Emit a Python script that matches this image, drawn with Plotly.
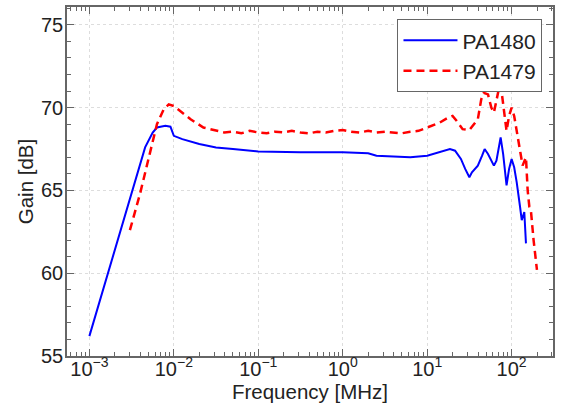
import plotly.graph_objects as go

# PA1480 (blue, solid) -- frequency in MHz, gain in dB
freq_pa1480 = [0.001, 0.00251, 0.00457, 0.00562, 0.00631, 0.00794, 0.00912, 0.01,
               0.0126, 0.02, 0.0316, 0.0501, 0.1, 0.316, 1.0, 2.0, 2.51, 3.98, 6.31,
               10.0, 14.1, 18.6, 21.4, 25.1, 28.2, 31.6, 33.9, 36.3, 39.8, 44.7,
               47.9, 52.5, 57.5, 61.7, 66.1, 70.8, 74.1, 79.4, 87.1, 93.3, 100.0,
               107.2, 114.8, 125.9, 131.8, 141.3, 147.9]
gain_pa1480 = [56.2, 63.2, 67.6, 68.5, 68.8, 68.9, 68.85, 68.3,
               68.1, 67.8, 67.6, 67.5, 67.35, 67.3, 67.3, 67.25, 67.1, 67.05, 67.0,
               67.1, 67.3, 67.5, 67.4, 66.9, 66.3, 65.8, 66.1, 66.3, 66.5, 67.1,
               67.5, 67.2, 66.8, 66.5, 66.8, 67.6, 68.2, 67.2, 65.3, 66.3, 66.9,
               66.4, 65.5, 64.0, 63.2, 63.7, 61.8]

# PA1479 (red, dashed)
freq_pa1479 = [0.00302, 0.00398, 0.00501, 0.00631, 0.00759, 0.00871, 0.01, 0.0126,
               0.0158, 0.0224, 0.0316, 0.0398, 0.05, 0.063, 0.079, 0.1, 0.126, 0.158,
               0.2, 0.25, 0.316, 0.4, 0.5, 0.63, 0.79, 1.0, 1.26, 1.58, 2.0, 2.5,
               3.16, 4.0, 5.0, 6.3, 7.9, 10.0, 14.1, 17.8, 20.0, 22.4, 26.3, 31.6,
               35.5, 39.8, 43.7, 46.8, 52.5, 57.5, 61.7, 67.6, 72.4, 75.9, 81.3,
               87.1, 93.3, 100.0, 107.2, 114.8, 125.9, 134.9, 147.9, 154.9, 162.2,
               169.8, 182.0, 199.5]
gain_pa1479 = [62.6, 64.8, 66.9, 69.0, 69.9, 70.2, 70.1, 69.7,
               69.3, 68.8, 68.6, 68.5, 68.55, 68.45, 68.6, 68.5, 68.45, 68.55,
               68.5, 68.6, 68.5, 68.45, 68.55, 68.5, 68.6, 68.65, 68.55, 68.5, 68.6, 68.5,
               68.55, 68.5, 68.45, 68.55, 68.6, 68.8, 69.1, 69.4, 69.5, 69.2, 68.7, 68.65,
               69.0, 69.3, 70.5, 70.9, 70.8, 70.0, 69.7, 70.6, 71.4, 71.0, 69.8,
               68.6, 69.5, 70.0, 69.5, 68.6, 67.2, 66.5, 67.0, 65.0, 64.0,
               63.7, 62.0, 60.2]

x_tickvals = [1e-3, 1e-2, 1e-1, 1e0, 1e1, 1e2]
x_ticktext = ["10<sup>\u22123</sup>", "10<sup>\u22122</sup>", "10<sup>\u22121</sup>",
              "10<sup>0</sup>", "10<sup>1</sup>", "10<sup>2</sup>"]
y_tickvals = [55, 60, 65, 70, 75]

x_minor = [m * 10.0 ** e for e in range(-4, 3) for m in range(2, 10)]
y_minor = list(range(55, 77))

FONT = "Liberation Sans, Arial, sans-serif"

fig = go.Figure()
fig.add_trace(go.Scatter(x=freq_pa1480, y=gain_pa1480, mode="lines", name="PA1480",
                         line=dict(color="#0000ff", width=2)))
fig.add_trace(go.Scatter(x=freq_pa1479, y=gain_pa1479, mode="lines", name="PA1479",
                         line=dict(color="#ff0000", width=2.5, dash="8px,5px")))

axis_common = dict(showline=True, linecolor="#666666", linewidth=1.5, mirror="ticks",
                   ticks="inside", ticklen=7, tickcolor="#666666", tickwidth=1,
                   showgrid=True, gridcolor="#dddddd", griddash="dot", gridwidth=1,
                   zeroline=False, automargin=False,
                   tickfont=dict(family=FONT, size=20, color="#222222"),
                   title_font=dict(family=FONT, size=20.5, color="#222222"))

fig.update_xaxes(type="log", range=[-3.265, 2.49], tickmode="array",
                 tickvals=x_tickvals, ticktext=x_ticktext, ticklabelstandoff=-6,
                 title_text="Frequency [MHz]", title_standoff=0,
                 minor=dict(tickmode="array", tickvals=x_minor, ticks="inside", ticklen=4,
                            tickcolor="#666666", showgrid=False),
                 **axis_common)
fig.update_yaxes(range=[55, 76.08], tickmode="array", tickvals=y_tickvals,
                 ticklabelstandoff=-2,
                 title_text="Gain [dB]", title_standoff=2,
                 minor=dict(tickmode="array", tickvals=y_minor, ticks="inside", ticklen=4,
                            tickcolor="#666666", showgrid=False),
                 **axis_common)

fig.update_layout(width=562, height=405, margin=dict(l=67, r=9, t=7, b=49),
                  plot_bgcolor="white", paper_bgcolor="white",
                  font=dict(family=FONT, color="#222222"),
                  legend=dict(x=0.68, y=0.965, xanchor="left", yanchor="top",
                              bgcolor="white", bordercolor="#666666", borderwidth=1,
                              font=dict(size=21, family=FONT),
                              itemwidth=54, tracegroupgap=0),
                  showlegend=True)

fig.write_html("out.html", config={"displayModeBar": False},
               post_script="document.body.style.margin='0';document.body.style.overflow='hidden';")
